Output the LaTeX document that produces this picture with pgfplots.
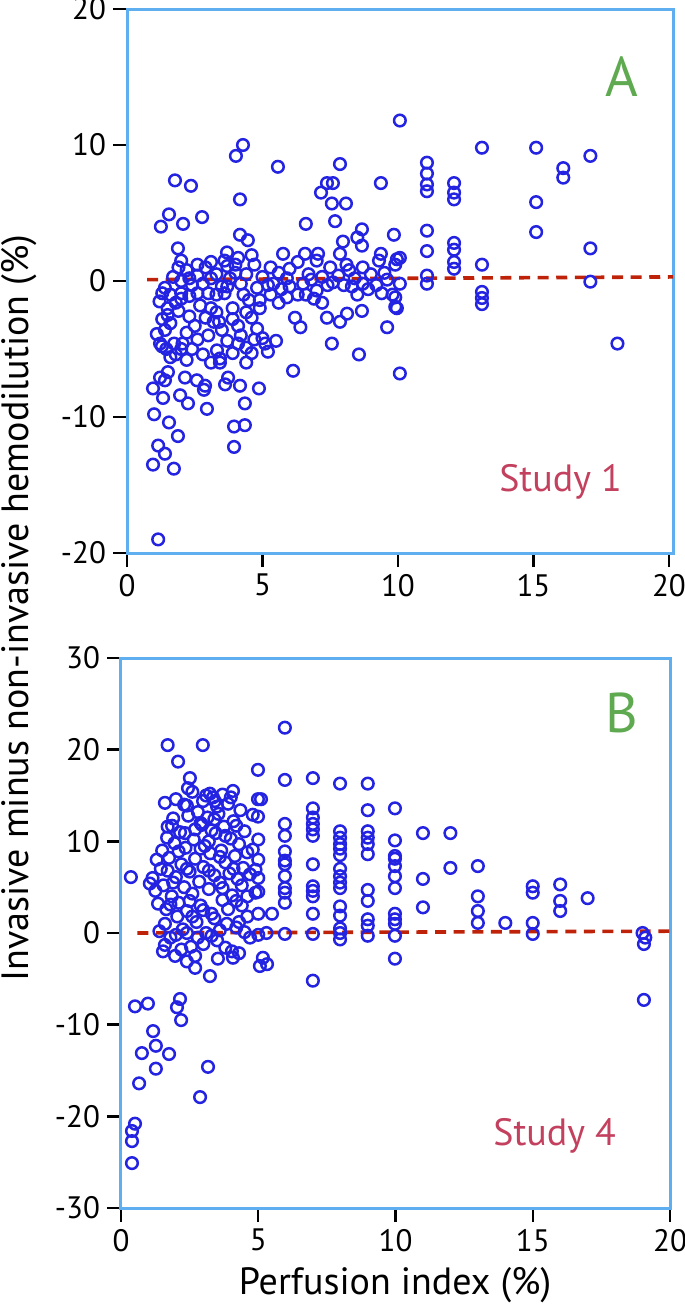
\documentclass[border=0pt]{standalone}
\usepackage{fontspec}
\setmainfont{PT Sans}
\usepackage{pgfplots}
\usepackage{pgfplotstable}
\pgfplotsset{compat=1.18}
\definecolor{frameblue}{RGB}{95,175,240}
\definecolor{markblue}{RGB}{35,35,225}
\definecolor{dashred}{RGB}{190,35,10}
\definecolor{labgreen}{RGB}{95,170,80}
\definecolor{studyred}{RGB}{195,65,95}

\pgfplotstableread{
x y
10.07 11.8
4.28 10.0
4.02 9.2
5.57 8.4
7.86 8.6
1.77 7.4
2.36 7.0
9.37 7.2
7.38 7.2
7.6 7.2
7.16 6.5
7.56 5.7
8.08 5.7
4.17 6.0
1.55 4.9
1.25 4.0
2.07 4.2
2.77 4.7
6.6 4.2
7.68 4.4
8.67 3.8
9.85 3.4
1.88 2.4
4.17 3.4
4.46 3.0
7.97 2.9
8.5 3.2
8.67 2.6
5.76 2.0
3.69 2.1
6.57 2.0
7.05 2.0
7.86 2.0
9.37 2.0
9.96 1.6
13.1 9.8
15.1 9.8
17.1 9.2
16.1 8.3
16.1 7.6
11.07 8.7
11.07 7.9
11.07 7.1
11.07 6.6
12.07 7.2
12.07 6.5
12.07 6.0
15.1 5.8
15.1 3.6
17.1 2.4
11.07 3.7
11.07 2.2
10.07 1.7
9.9 1.2
12.07 2.8
12.07 2.3
12.07 1.4
12.07 0.9
13.1 1.2
17.1 -0.05
11.07 0.4
11.07 -0.2
10.07 -0.2
10.07 -6.8
18.1 -4.6
13.1 -0.8
13.1 -1.25
13.1 -1.7
9.9 -1.2
9.9 -1.9
9.6 -3.4
1.15 -19.0
0.96 -13.5
1.73 -13.8
1.15 -12.1
1.4 -12.7
1.55 -10.4
1.88 -11.4
1.0 -9.8
0.96 -7.9
1.33 -8.6
3.95 -12.2
3.95 -10.7
4.35 -10.6
2.95 -9.4
1.96 -8.4
2.25 -9.0
4.35 -9.0
4.87 -7.9
3.62 -7.6
3.73 -7.1
4.17 -7.7
2.14 -7.1
2.58 -7.3
2.84 -8.0
2.88 -7.7
1.22 -7.1
1.51 -6.7
1.40 -7.3
6.13 -6.6
1.22 -4.6
1.29 -4.8
1.45 -5.0
1.74 -4.6
2.05 -4.6
1.8 -5.4
2.2 -5.8
1.6 -5.6
2.4 -5.0
3.32 -5.1
3.43 -5.7
3.43 -6.0
4.1 -4.6
4.4 -4.9
4.7 -4.3
5.0 -4.2
5.1 -4.6
4.4 -6.0
4.6 -5.3
7.56 -4.6
8.56 -5.4
6.2 -2.7
6.4 -3.4
7.38 -2.7
7.86 -3.0
8.12 -2.4
8.67 -2.2
9.96 -2.0
1.3 -0.9
1.6 -1.0
2.0 -0.9
2.3 -1.1
2.6 -0.9
3.0 -0.9
3.3 -1.0
3.6 -0.9
1.5 -2.0
1.8 -1.6
2.0 -1.3
1.5 -2.5
1.6 -3.1
1.4 -3.6
3.1 -2.0
3.3 -2.3
3.4 -3.0
3.2 -3.0
3.5 -3.6
3.9 -2.0
3.9 -2.8
4.1 -3.3
4.4 -2.3
4.6 -2.7
4.9 -2.0
4.9 -1.4
4.5 -1.4
5.3 -1.0
5.4 -0.2
6.3 -1.0
6.6 -1.0
7.0 -0.7
7.4 -0.3
8.0 -0.3
8.7 -0.2
8.9 -0.6
9.8 -1.0
1.9 1.0
2.2 0.8
2.6 0.4
2.9 1.0
3.3 0.5
3.6 1.5
3.8 0.2
4.0 1.2
4.4 0.5
4.7 1.2
5.0 0.3
5.3 1.0
5.6 0.6
5.9 0.2
6.3 1.4
6.7 0.5
7.0 1.5
7.2 0.3
7.5 1.0
7.8 0.4
8.1 1.2
8.4 0.2
8.7 1.0
9.0 0.5
9.3 1.5
9.6 0.1
2.0 0.0
2.4 -0.3
2.8 -0.2
3.1 0.2
3.5 -0.4
4.2 -0.2
4.8 -0.5
5.2 -0.3
5.7 -0.6
6.0 -0.4
6.5 -0.2
6.8 0.1
7.6 -0.1
8.3 -0.4
9.2 -0.3
9.5 0.6
1.7 0.3
1.4 -0.5
2.0 1.5
2.6 1.2
3.1 1.4
3.7 1.1
4.1 1.7
4.6 1.9
1.9 -2.2
2.3 -2.6
2.7 -1.8
2.5 -3.3
2.9 -2.7
2.2 -3.8
2.6 -4.3
3.0 -4.0
2.0 -5.0
2.8 -5.4
3.1 -6.0
3.7 -4.4
3.9 -5.3
4.2 -4.0
4.8 -3.5
4.3 -1.0
3.7 -0.4
4.0 0.6
2.3 0.2
1.2 -1.5
1.3 -2.8
1.1 -3.9
5.6 -1.6
5.9 -1.2
6.0 0.9
6.9 -1.3
7.2 -1.6
8.2 0.8
8.5 -1.0
9.4 -0.9
5.2 -5.2
5.5 -4.4
}\dataA

\pgfplotstableread{
x y
0.36 6.1
0.51 -8.0
0.98 -7.7
2.15 -7.2
2.04 -8.1
2.19 -9.5
1.17 -10.7
0.76 -13.1
1.27 -12.3
1.75 -13.2
1.27 -14.8
0.66 -16.4
3.17 -14.6
2.88 -17.9
0.51 -20.8
0.4 -21.6
0.4 -22.7
0.4 -25.1
1.53 -2.0
1.97 -2.5
2.4 -3.1
2.7 -3.8
3.24 -4.7
3.53 -2.8
4.08 -2.7
4.04 -2.0
5.17 -2.7
5.32 -3.4
5.06 -3.6
6.99 -5.2
9.98 -2.8
19.0 0.0
19.1 -0.5
19.05 -1.2
19.05 -7.3
5.97 22.4
5.97 16.7
5.97 11.9
5.97 10.6
5.97 8.9
5.97 7.9
5.97 7.5
5.97 6.2
5.97 4.9
5.97 4.4
5.97 3.3
5.97 -0.1
6.99 16.9
6.99 13.6
6.99 12.6
6.99 11.9
6.99 11.3
6.99 10.6
6.99 7.5
6.99 5.1
6.99 4.6
6.99 4.0
6.99 2.1
6.99 -0.1
7.98 16.3
7.98 11.1
7.98 10.4
7.98 9.7
7.98 9.2
7.98 8.5
7.98 7.0
7.98 6.2
7.98 5.5
7.98 4.9
7.98 2.9
7.98 1.9
7.98 0.5
7.98 0.0
7.98 -0.7
8.99 16.3
8.99 13.4
8.99 11.1
8.99 10.4
8.99 9.7
8.99 8.6
8.99 4.7
8.99 3.5
8.99 1.5
8.99 0.8
8.99 -0.3
9.98 13.6
9.98 10.1
9.98 8.4
9.98 8.1
9.98 7.3
9.98 6.2
9.98 4.9
9.98 2.1
9.98 1.5
9.98 1.0
9.98 -0.3
11.0 10.9
11.0 5.9
11.0 2.8
12.0 10.9
12.0 7.1
13.0 7.3
13.0 4.0
13.0 2.4
13.0 1.1
14.0 1.1
15.0 5.1
15.0 4.4
15.0 1.1
15.0 -0.1
16.0 5.3
16.0 3.5
16.0 2.4
17.0 3.8
1.7 20.5
2.98 20.5
2.08 18.7
4.99 17.8
2.51 16.9
2.44 15.8
1.6 14.2
4.08 15.5
3.24 15.2
3.42 14.4
2.99 14.4
2.4 13.9
4.99 14.6
5.1 14.6
4.99 12.7
1.86 11.7
2.33 10.9
1.68 10.4
1.05 5.4
1.15 6.0
1.25 4.6
1.35 3.2
1.45 7.0
1.5 9.0
1.55 5.2
1.6 1.0
1.65 2.6
1.7 6.8
1.75 8.2
1.8 -0.5
1.85 4.0
1.9 12.5
1.95 9.8
2.0 6.1
2.05 1.8
2.1 3.3
2.15 11.0
2.2 7.5
2.25 0.4
2.3 5.0
2.35 9.3
2.4 2.4
2.45 12.8
2.5 6.7
2.55 -1.5
2.6 4.3
2.65 10.2
2.7 8.1
2.75 1.2
2.8 13.2
2.85 5.6
2.9 3.0
2.95 11.8
3.0 7.2
3.05 9.5
3.1 0.0
3.15 12.6
3.2 4.8
3.25 8.7
3.3 2.1
3.35 14.8
3.4 6.3
3.45 10.9
3.5 -0.8
3.55 13.0
3.6 5.5
3.65 9.0
3.7 3.6
3.75 11.6
3.8 7.7
3.85 1.0
3.9 14.1
3.95 6.5
4.0 10.3
4.05 4.1
4.1 12.2
4.15 8.4
4.2 0.6
4.25 5.9
4.3 9.7
4.35 13.4
4.4 3.0
4.45 7.1
4.5 11.1
4.6 1.8
4.7 6.4
4.8 9.1
4.9 4.4
2.0 14.6
2.3 14.0
2.6 15.4
2.9 12.0
3.1 15.0
3.3 11.2
3.5 13.8
3.7 15.1
4.0 14.8
4.2 11.7
2.2 -1.8
2.7 -2.5
3.0 -1.2
3.3 -0.3
3.8 -1.6
4.3 -2.2
4.7 -0.5
1.4 0.2
1.6 -1.3
2.0 -0.2
2.4 0.0
2.8 -0.5
3.6 0.3
4.5 0.1
5.0 10.2
5.0 8.0
5.0 6.0
5.0 4.5
5.0 2.1
5.5 2.1
5.0 -0.2
5.3 0.0
1.8 3.1
2.5 3.5
3.0 2.5
3.4 1.6
3.9 2.6
4.4 5.2
2.1 8.9
2.7 11.3
3.2 10.0
3.6 8.3
4.1 7.0
4.6 8.8
4.8 12.9
1.3 8.0
1.7 11.6
2.4 7.0
2.9 9.2
3.4 12.4
3.8 10.6
4.2 3.5
4.6 4.0
4.9 6.9
1.9 5.5
2.6 1.8
3.2 6.8
3.7 4.9
4.3 1.2
}\dataB

\pgfplotsset{
  panel/.style={
    scale only axis,
    axis line style={draw=frameblue, line width=1.5pt},
    tick align=outside,
    xtick pos=lower, ytick pos=left,
    major tick length=7pt,
    tick style={black, line width=1.2pt},
    xtick={0,5,10,15,20},
    ticklabel style={font=\fontsize{15.5}{18}\selectfont},
    /pgf/number format/assume math mode=true,
    clip=false,
  },
  pts/.style={only marks, mark=o, mark size=2.9pt, color=markblue, mark options={line width=1.25pt}},
  reg/.style={dashred, line width=1.8pt, dash pattern=on 5.5pt off 3.8pt},
}

\begin{document}
\begin{tikzpicture}[x=1pt,y=1pt]
\useasboundingbox (0,0) rectangle (342.5,-653.5);
\begin{axis}[panel,
  at={(63.5pt,-276.5pt)}, anchor=south west,
  width=273pt, height=272pt,
  xmin=0, xmax=20.15, ymin=-20, ymax=20,
  ytick={-20,-10,0,10,20}]
\addplot[pts] table[x=x,y=y] {\dataA};
\addplot[reg] coordinates {(0.74,0.1) (20.15,0.3)};
\node[text=labgreen, font=\fontsize{28}{32}\selectfont] at (axis cs:18.27,15.0) {A};
\node[text=studyred, font=\fontsize{19}{22}\selectfont] at (axis cs:16.0,-14.8) {Study 1};
\end{axis}
\begin{axis}[panel,
  at={(60.5pt,-604pt)}, anchor=south west,
  width=274.5pt, height=275pt,
  xmin=0, xmax=20, ymin=-30, ymax=30,
  ytick={-30,-20,-10,0,10,20,30}]
\addplot[pts] table[x=x,y=y] {\dataB};
\addplot[reg] coordinates {(0.6,0.0) (20,0.2)};
\node[text=labgreen, font=\fontsize{28}{32}\selectfont] at (axis cs:18.25,24.0) {B};
\node[text=studyred, font=\fontsize{19}{22}\selectfont] at (axis cs:15.8,-22.1) {Study 4};
\end{axis}
\node[rotate=90, font=\fontsize{19}{22}\selectfont] at (9.5,-304) {Invasive minus non-invasive hemodilution (\%)};
\node[font=\fontsize{19}{22}\selectfont] at (197.5,-642.5) {Perfusion index (\%)};
\end{tikzpicture}
\end{document}
